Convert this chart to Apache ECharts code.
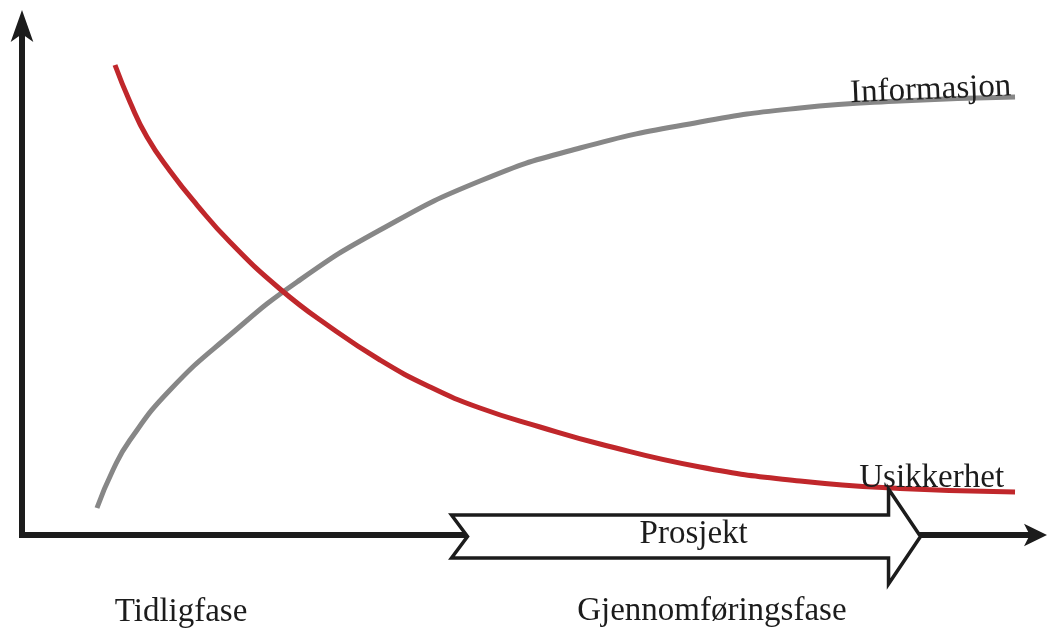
<!DOCTYPE html>
<html>
<head>
<meta charset="utf-8">
<script src="https://cdn.jsdelivr.net/npm/echarts/dist/echarts.min.js"></script>
<style>
  html, body { margin: 0; padding: 0; background: #ffffff; }
  #chart { width: 1049px; height: 631px; }
</style>
</head>
<body>
<div id="chart"></div>
<script>
// ---- Data (normalised project time 0..100, level 0..100) ----
const infoX = [7.40, 8.98, 10.66, 14.61, 20.53, 27.15, 35.34, 45.21, 55.08, 66.93, 76.80, 86.67, 98.03];
const infoY = [5.30, 12.77, 18.66, 28.49, 39.29, 49.71, 59.92, 69.55, 76.03, 81.14, 83.89, 85.27, 86.05];

const riskX = [9.18, 10.66, 12.34, 14.61, 17.28, 20.53, 25.47, 30.41, 35.34, 40.28, 45.21, 51.14, 57.06, 66.93, 76.80, 86.67, 98.03];
const riskY = [92.34, 85.07, 78.19, 71.51, 64.83, 57.56, 48.33, 40.86, 34.38, 29.08, 24.95, 21.22, 17.88, 13.36, 10.61, 9.14, 8.45];

const seriesNames = ['Informasjon', 'Usikkerhet'];

// Project arrow span along the time axis: [start, tip]
const projectSpan = [42.4, 88.7];

// Text annotations (anchor in data coordinates)
const labelTexts = ['Informasjon', 'Usikkerhet', 'Prosjekt', 'Tidligfase', 'Gjennomføringsfase'];
const labelX = [89.7, 89.8, 66.3, 15.7, 68.1];
const labelY = [87.4, 11.2, 0.2, -15.2, -15.0];
const labelAngles = [2.4, 0, 0, 0, 0];

// ---- Chart ----
const chart = echarts.init(document.getElementById('chart'), null, { renderer: 'canvas' });

const zip = (xs, ys) => xs.map((x, i) => [x, ys[i]]);
const FONT = '33px "Liberation Serif", "DejaVu Serif", serif';
const INK = '#1c1c1c';

const axisCommon = {
  type: 'value',
  min: 0,
  max: 100,
  axisLabel: { show: false },
  axisTick: { show: false },
  splitLine: { show: false },
};

chart.setOption({
  animation: false,
  backgroundColor: '#ffffff',
  grid: { left: 22, right: 14, top: 26, bottom: 96, containLabel: false },
  xAxis: Object.assign({}, axisCommon, {
    axisLine: {
      show: true,
      symbol: ['none', 'arrow'],
      symbolSize: [17, 23],
      symbolOffset: [0, 12],
      lineStyle: { color: INK, width: 6, cap: 'square' }
    }
  }),
  yAxis: Object.assign({}, axisCommon, {
    axisLine: {
      show: true,
      symbol: ['none', 'arrow'],
      symbolSize: [17, 32],
      symbolOffset: [0, 16],
      lineStyle: { color: INK, width: 6, cap: 'square' }
    }
  }),
  series: [
    {
      name: seriesNames[0],
      type: 'line',
      data: zip(infoX, infoY),
      smooth: 0.5,
      showSymbol: false,
      symbol: 'none',
      lineStyle: { color: '#878787', width: 5 },
      z: 2
    },
    {
      name: seriesNames[1],
      type: 'line',
      data: zip(riskX, riskY),
      smooth: 0.5,
      showSymbol: false,
      symbol: 'none',
      lineStyle: { color: '#c0272b', width: 5 },
      z: 3
    },
    {
      name: 'Prosjekt',
      type: 'custom',
      z: 4,
      data: [projectSpan],
      renderItem: function (params, api) {
        const a = api.coord([api.value(0), 0]);
        const b = api.coord([api.value(1), 0]);
        const cy = a[1] + 1.5;
        const sh = 21.5, hh = 47.5, hl = 32, nd = 16;
        const x0 = a[0], x1 = b[0];
        const pts = [
          [x0, cy - sh], [x1 - hl, cy - sh], [x1 - hl, cy - hh], [x1, cy],
          [x1 - hl, cy + hh], [x1 - hl, cy + sh], [x0, cy + sh], [x0 + nd, cy]
        ];
        return {
          type: 'polygon',
          shape: { points: pts },
          style: { fill: '#ffffff', stroke: INK, lineWidth: 3.5, lineJoin: 'miter' }
        };
      }
    },
    {
      name: 'labels',
      type: 'custom',
      z: 5,
      data: labelTexts.map((t, i) => [labelX[i], labelY[i], i]),
      renderItem: function (params, api) {
        const i = api.value(2);
        const p = api.coord([api.value(0), api.value(1)]);
        return {
          type: 'text',
          x: p[0],
          y: p[1],
          rotation: labelAngles[i] * Math.PI / 180,
          style: {
            text: labelTexts[i],
            font: FONT,
            fill: INK,
            align: 'center',
            verticalAlign: 'middle'
          }
        };
      }
    }
  ]
});
</script>
</body>
</html>
